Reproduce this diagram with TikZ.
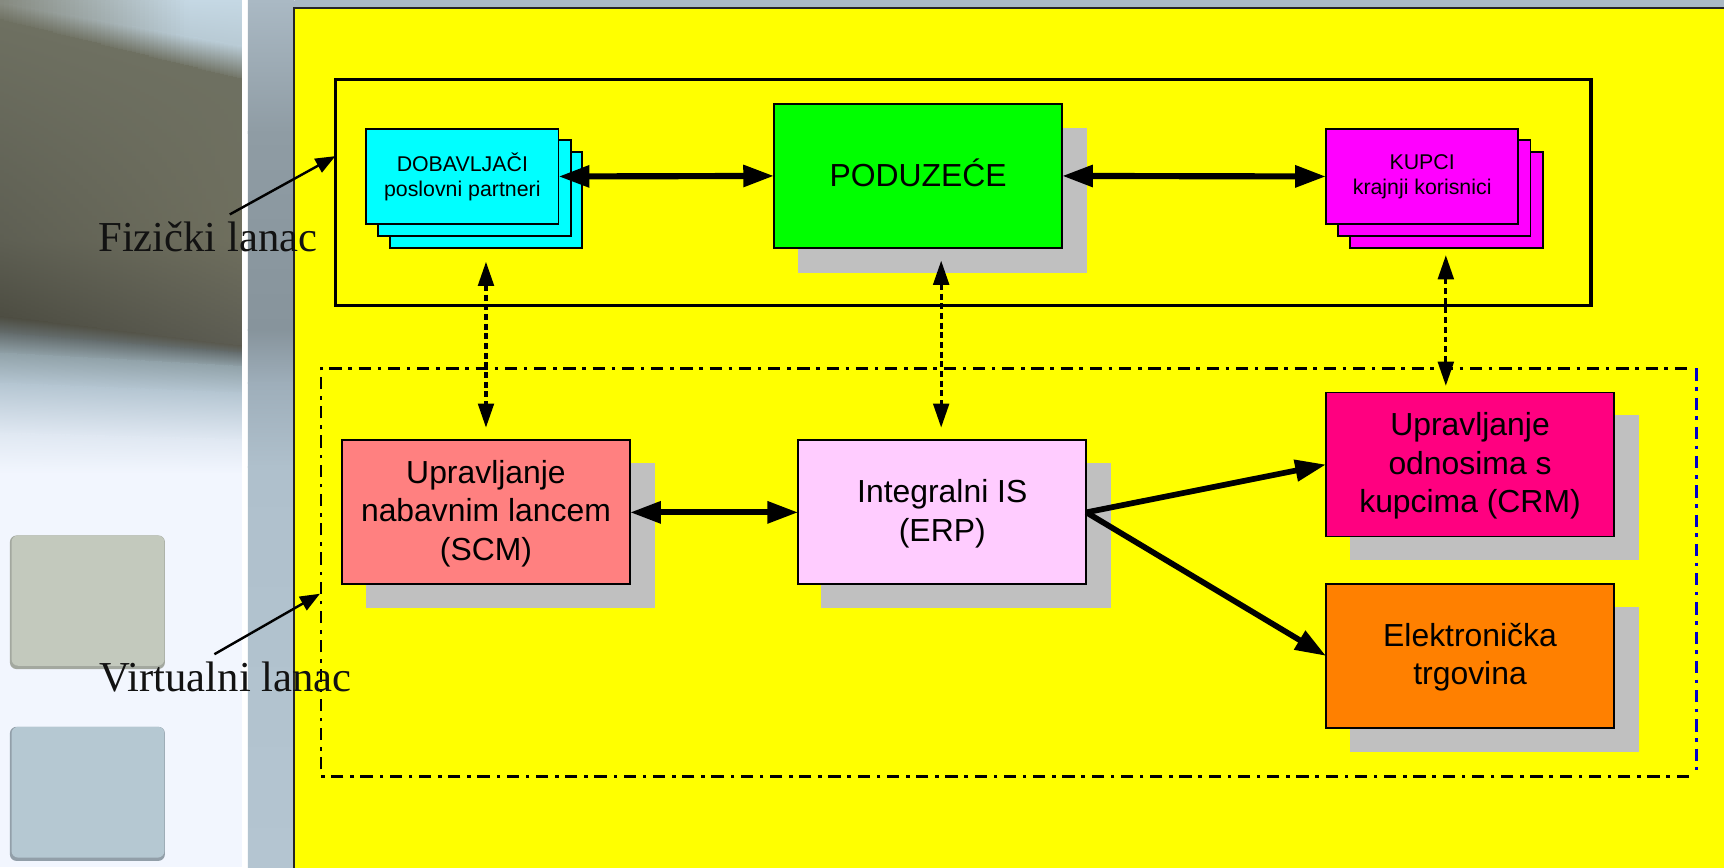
\documentclass[tikz,border=0pt]{standalone}
\usepackage{fontspec}
\setmainfont{Liberation Sans}
\newfontfamily\lblfont{Liberation Serif}
\usetikzlibrary{arrows.meta}
\definecolor{topL}{HTML}{868A80}
\definecolor{topR}{HTML}{C5D8E4}
\definecolor{upperR}{HTML}{B8CAD4}
\definecolor{oliveA}{HTML}{6E7061}
\definecolor{oliveBL}{HTML}{5E5F53}
\definecolor{oliveBR}{HTML}{6F6F5E}
\definecolor{oliveCL}{HTML}{4D4D42}
\definecolor{oliveCR}{HTML}{5C5C52}
\definecolor{oliveD}{HTML}{666F70}
\definecolor{mistA}{HTML}{92A3AA}
\definecolor{mistM}{HTML}{B5C6D2}
\definecolor{mistB}{HTML}{E0E8F2}
\definecolor{paleBg}{HTML}{F2F6FE}
\definecolor{stripA}{HTML}{AAB9C4}
\definecolor{stripB}{HTML}{8F9CA4}
\definecolor{stripC}{HTML}{87949C}
\definecolor{stripD}{HTML}{9EAEBA}
\definecolor{stripE}{HTML}{AFC0CC}
\definecolor{stripF}{HTML}{B4C5D1}
\definecolor{squareA}{HTML}{C3C9BD}
\definecolor{squareAedge}{HTML}{A3A89F}
\definecolor{squareB}{HTML}{B5C8D2}
\definecolor{squareBedge}{HTML}{929FA9}
\definecolor{shadowGrey}{HTML}{C0C0C0}
\definecolor{cyanBox}{HTML}{00FFFF}
\definecolor{magBox}{HTML}{FF00FF}
\definecolor{greenBox}{HTML}{00FF00}
\definecolor{salmonBox}{HTML}{FF8080}
\definecolor{lilacBox}{HTML}{FFCCFF}
\definecolor{roseBox}{HTML}{FF0080}
\definecolor{orangeBox}{HTML}{FF8000}
\definecolor{yellowBg}{HTML}{FFFF00}
\definecolor{blueEdge}{HTML}{0000C8}
\tikzset{
  block/.style={draw=black,line width=.85pt,inner sep=0pt,outer sep=0pt,minimum width=131pt,minimum height=65.5pt,align=center,font=\fontsize{14.5}{17.45}\selectfont},
  shadowbox/.style={fill=shadowGrey,draw=none,inner sep=0pt,outer sep=0pt,minimum width=131.5pt,minimum height=66pt},
  stackbox/.style={draw=black,line width=.85pt,inner sep=0pt,outer sep=0pt,minimum width=87.5pt,minimum height=43.5pt,align=center,font=\fontsize{9.7}{11.4}\selectfont},
  bigarrow/.style={line width=2.8pt,{Triangle[length=14pt,width=9.5pt]}-{Triangle[length=14pt,width=9.5pt]}},
  onearrow/.style={line width=2.6pt,-{Triangle[length=14pt,width=9.5pt]}},
  linkarrow/.style={line width=1.5pt,dash pattern=on 2.7pt off 1.7pt,{Triangle[length=11pt,width=7.1pt]}-{Triangle[length=11pt,width=7.1pt]}},
  notearrow/.style={line width=1.1pt,-{Triangle[length=9pt,width=7pt]}},
  notelabel/.style={anchor=base west,inner sep=0pt,text=black!93,font=\lblfont\fontsize{19.4}{22}\selectfont},
  chainline/.style={line width=1.2pt,dash pattern=on 5.6pt off 3pt on 1.6pt off 3.1pt},
}
\newcommand{\colseg}[4]{\shade[top color=#3,bottom color=#4] (\xa,#1) rectangle (\xb,#2+1);}
\newcommand{\dnl}[1]{\raisebox{-.6pt}[\height][\depth]{#1}}
\begin{document}
\begin{tikzpicture}[x=.5pt,y=-.5pt]
\useasboundingbox (0,0) rectangle (1568,788.6);
% left blurred photo panel
\fill[paleBg] (0,0) rectangle (222,788.6);
\foreach \i in {0,...,55}{
  \pgfmathsetmacro\xa{\i*4}
  \pgfmathsetmacro\xb{\i*4+5}
  \pgfmathsetmacro\s{\i/55}
  \pgfmathsetmacro\pct{100*\s}
  \pgfmathsetmacro\pcta{min(100,130*\s)}
  \pgfmathsetmacro\ya{(10+130*\s)/3.3}
  \pgfmathsetmacro\yb{(60+180*\s)/3.3}
  \pgfmathsetmacro\yd{(950+90*\s)/3.3}
  \pgfmathsetmacro\ye{(1000+60*\s)/3.3}
  \pgfmathsetmacro\yf{(1060+40*\s)/3.3}
  \pgfmathsetmacro\yg{(1150+30*\s)/3.3}
  \pgfmathsetmacro\yh{(1300+20*\s)/3.3}
  \colseg{0}{\ya}{topR!\pcta!topL}{upperR!\pcta!topL}
  \colseg{\ya}{\yb}{upperR!\pcta!topL}{oliveA}
  \colseg{\yb}{218}{oliveA}{oliveBR!\pct!oliveBL}
  \colseg{218}{\yd}{oliveBR!\pct!oliveBL}{oliveCR!\pct!oliveCL}
  \colseg{\yd}{\ye}{oliveCR!\pct!oliveCL}{oliveD}
  \colseg{\ye}{\yf}{oliveD}{mistA}
  \colseg{\yf}{\yg}{mistA}{mistM}
  \colseg{\yg}{\yh}{mistM}{mistB}
  \colseg{\yh}{430}{mistB}{paleBg}
}
\fill[white] (220,0) rectangle (225.5,788.6);
% grey strip
\def\xa{225.5}\def\xb{268}
\colseg{0}{120}{stripA}{stripB}
\colseg{120}{300}{stripB}{stripC}
\colseg{300}{348}{stripC}{stripD}
\colseg{348}{424}{stripD}{stripE}
\shade[top color=stripE,bottom color=stripF] (225.5,424) rectangle (268,788.6);
\fill[stripA] (268,0) rectangle (1568,8);
% decorative squares
\fill[rounded corners=3pt,squareAedge] (9,487) rectangle (150,608.5);
\fill[rounded corners=3pt,squareA] (10.5,487) rectangle (149.5,605.5);
\fill[rounded corners=3pt,squareBedge] (9,661) rectangle (150,783);
\fill[rounded corners=3pt,squareB] (10.5,661) rectangle (149.5,780);
% yellow panel
\fill[yellowBg,draw=black!85,line width=.8pt] (267.5,7) rectangle (1600,820);
% physical chain frame
\node[draw=black,line width=1.5pt,inner sep=0pt,outer sep=0pt,minimum width=571pt,minimum height=103pt] (phys) at (876,175) {};
% virtual chain frame
\coordinate (vTL) at (292,335);
\coordinate (vTR) at (1536,335);
\coordinate (vRT) at (1543,335);
\coordinate (vBR) at (1543,700);
\coordinate (vBE) at (1536,706);
\coordinate (vBL) at (292,706);
\draw[chainline] (vBE) -- (vBL) -- (vTL) -- (vTR);
\draw[chainline,blueEdge,line width=1.3pt] (vRT) -- (vBR);
% shadows and blocks
\node[shadowbox] (podS) at (857.5,182) {};
\node[shadowbox] (scmS) at (464.5,487) {};
\node[shadowbox] (erpS) at (878.5,487) {};
\node[shadowbox] (crmS) at (1359.5,443.5) {};
\node[shadowbox] (etrS) at (1359.5,618) {};
\node[block,fill=greenBox] (pod) at (835,160) {\raisebox{1.5pt}[\height][\depth]{PODUZEĆE}};
\node[block,fill=salmonBox] (scm) at (442,466) {\dnl{Upravljanje}\\\dnl{nabavnim lancem}\\\dnl{(SCM)}};
\node[block,fill=lilacBox] (erp) at (857,466) {\dnl{Integralni IS}\\\dnl{(ERP)}};
\node[block,fill=roseBox] (crm) at (1337,422.5) {\dnl{Upravljanje}\\\dnl{odnosima s}\\\dnl{kupcima (CRM)}};
\node[block,fill=orangeBox] (etr) at (1337,596.5) {\dnl{Elektronička}\\\dnl{trgovina}};
% stacks
\node[stackbox,fill=cyanBox] (dobC) at (442,182) {};
\node[stackbox,fill=cyanBox] (dobB) at (431.5,171) {};
\node[stackbox,fill=cyanBox] (dob) at (420.5,160.5) {DOBAVLJAČI\\poslovni partneri};
\node[stackbox,fill=magBox] (kupC) at (1315.5,182) {};
\node[stackbox,fill=magBox] (kupB) at (1304.5,171) {};
\node[stackbox,fill=magBox] (kup) at (1293.5,160.5) {KUPCI\\krajnji korisnici};
% connectors
\draw[bigarrow] (dob.east) -- (pod.west);
\draw[bigarrow] (pod.east) -- (kup.west);
\draw[bigarrow] (scm.east) -- (erp.west);
\draw[onearrow] (erp.east) -- (crm.west);
\draw[onearrow] (erp.east) -- (etr.west);
\coordinate (lnkA) at (442,238);
\coordinate (lnkAb) at (442,389);
\coordinate (lnkB) at (856,237);
\coordinate (lnkBb) at (856,389);
\coordinate (lnkC) at (1315,232);
\coordinate (lnkCb) at (1315,351);
\draw[linkarrow] (lnkA) -- (lnkAb);
\draw[linkarrow] (lnkB) -- (lnkBb);
\draw[linkarrow] (lnkC) -- (lnkCb);
% labels
\node[notelabel] (fiz) at (89,229) {Fizički lanac};
\node[notelabel] (vir) at (90,629) {Virtualni lanac};
\coordinate (fizS) at (209,195);
\coordinate (fizT) at (305,142);
\coordinate (virS) at (195,595);
\coordinate (virT) at (291,540);
\draw[notearrow] (fizS) -- (fizT);
\draw[notearrow] (virS) -- (virT);
\end{tikzpicture}
\end{document}
